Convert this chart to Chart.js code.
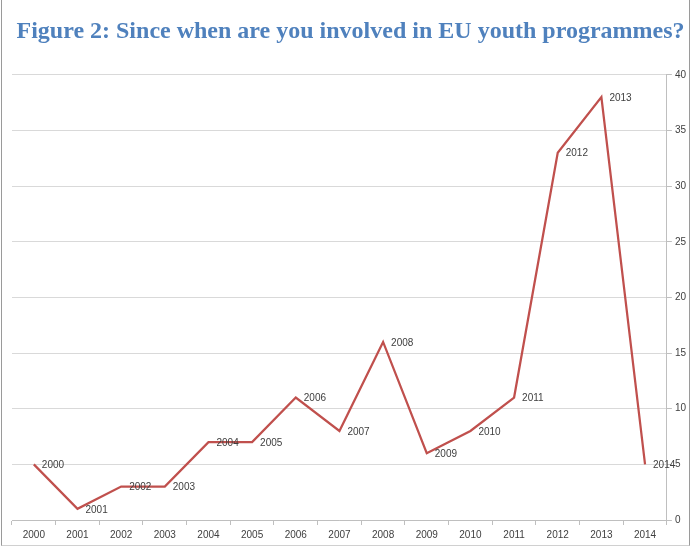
<!DOCTYPE html>
<html>
<head>
<meta charset="utf-8">
<script src="https://cdn.jsdelivr.net/npm/chart.js@4.4.1/dist/chart.umd.min.js"></script>
<style>
  html, body { margin: 0; padding: 0; background: #fff; }
  #wrap {
    position: relative;
    width: 687px;
    height: 545px;
    margin-left: 1px;
    border-left: 1px solid #9a9a9a;
    border-right: 1px solid #9a9a9a;
    border-bottom: 1px solid #d0d0d0;
  }
  canvas { display: block; }
</style>
</head>
<body>
<div id="wrap"><canvas id="years-chart" width="687" height="545"></canvas></div>
<script>
const years = ['2000', '2001', '2002', '2003', '2004', '2005', '2006', '2007',
  '2008', '2009', '2010', '2011', '2012', '2013', '2014'];
const respondents = [5, 1, 3, 3, 7, 7, 11, 8, 16, 6, 8, 11, 33, 38, 5];
const yTicks = [0, 5, 10, 15, 20, 25, 30, 35, 40];

// writes the year beside each point, like Excel's "right" label position
const yearLabels = {
  id: 'yearLabels',
  afterDatasetsDraw(chart) {
    const ctx = chart.ctx;
    const meta = chart.getDatasetMeta(0);
    ctx.save();
    ctx.font = '10px "Liberation Sans", Arial, sans-serif';
    ctx.fillStyle = '#404040';
    ctx.textAlign = 'left';
    ctx.textBaseline = 'middle';
    meta.data.forEach((pt, i) => {
      ctx.fillText(chart.data.labels[i], pt.x + 8, pt.y + 1);
    });
    ctx.restore();
  }
};

const yearsChart = new Chart(document.getElementById('years-chart'), {
  type: 'line',
  data: {
    labels: years,
    datasets: [{
      label: 'Respondents',
      data: respondents,
      borderColor: '#c0504d',
      borderWidth: 2.25,
      pointRadius: 0,
      tension: 0,
      fill: false
    }]
  },
  options: {
    responsive: false,
    animation: false,
    layout: { padding: { left: 10, right: 0, top: 0, bottom: 0 } },
    plugins: {
      legend: { display: false },
      tooltip: { enabled: false },
      title: {
        display: true,
        text: 'Figure 2: Since when are you involved in EU youth programmes?',
        color: '#4f81bd',
        font: { family: '"Liberation Serif", "Times New Roman", serif', size: 24, weight: 'bold' },
        padding: { top: 17, bottom: 29 }
      }
    },
    scales: {
      x: {
        offset: true,
        grid: {
          display: true,
          offset: true,
          drawOnChartArea: false,
          drawTicks: true,
          tickLength: 5,
          color: '#bfbfbf'
        },
        border: { color: '#bfbfbf', width: 1 },
        ticks: {
          color: '#404040',
          font: { family: '"Liberation Sans", Arial, sans-serif', size: 10 },
          padding: 4,
          maxRotation: 0,
          autoSkip: false
        }
      },
      y: {
        position: 'right',
        min: 0,
        max: 40,
        afterBuildTicks(axis) {
          axis.ticks = yTicks.map(v => ({ value: v }));
        },
        grid: {
          color: '#d9d9d9',
          lineWidth: 1,
          tickLength: 5,
          tickColor: '#bfbfbf'
        },
        border: { color: '#bfbfbf', width: 1 },
        ticks: {
          color: '#404040',
          font: { family: '"Liberation Sans", Arial, sans-serif', size: 10 },
          padding: 3
        }
      }
    }
  },
  plugins: [yearLabels]
});
</script>
</body>
</html>
